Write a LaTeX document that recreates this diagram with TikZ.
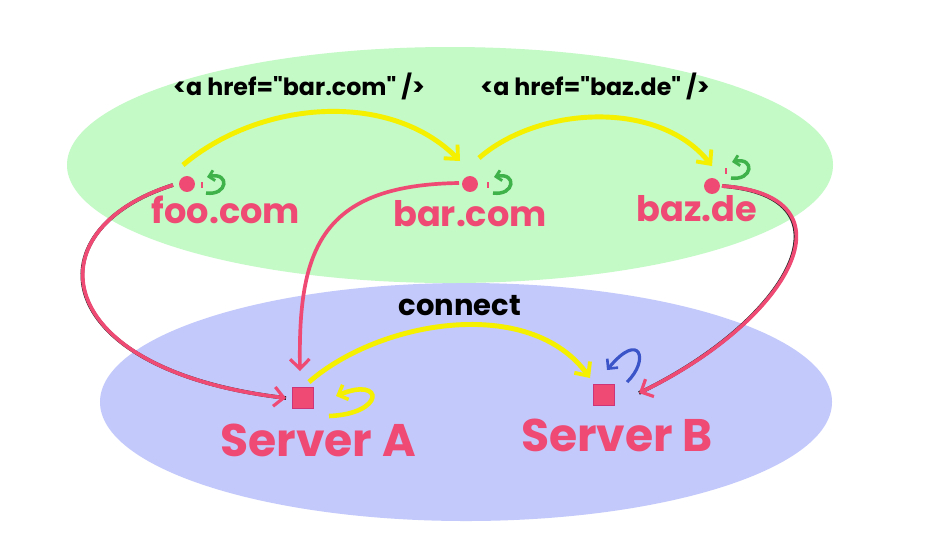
\documentclass[tikz,border=0pt]{standalone}
\usepackage{fontspec}
\setmainfont{Poppins}
\usetikzlibrary{arrows.meta}
\definecolor{gbg}{HTML}{C3FAC6}
\definecolor{bbg}{HTML}{C3C9FB}
\definecolor{pk}{HTML}{EE4A73}
\definecolor{yl}{HTML}{F5F000}
\definecolor{gc}{HTML}{3FB24A}
\definecolor{bc}{HTML}{3B55C8}
\tikzset{
  dot/.style={circle,fill=pk,inner sep=0pt,minimum size=16\px},
  srv/.style={rectangle,fill=pk,draw=pk!70!violet,line width=0.4pt,inner sep=0pt,minimum size=21\px},
  site/.style={text=pk,font=\fontsize{20}{24}\selectfont\bfseries},
  srvlbl/.style={text=pk,font=\fontsize{26}{30}\selectfont\bfseries},
  tag/.style={text=black,font=\fontsize{13.5}{16}\selectfont\bfseries},
  ylink/.style={draw=yl,line width=2.8pt,-{Straight Barb[length=6pt,width=11pt,line width=2.2pt]}},
  plink/.style={draw=pk,line width=2.1pt,-{Straight Barb[length=5.5pt,width=11pt,line width=1.8pt]}},
  pshadow/.style={draw=black!85,line width=2.1pt},
  curl/.style={line width=2pt,-{Straight Barb[length=3pt,width=6pt,line width=1.6pt]}},
}
\newlength\px
\setlength\px{0.567pt}
\begin{document}
\begin{tikzpicture}[x=0.02cm,y=-0.02cm]
\useasboundingbox (0,0) rectangle (945,532);
\fill[white] (0,0) rectangle (945,532);
% ellipses
\fill[bbg] (466,402) ellipse [x radius=366, y radius=119];
\fill[gbg] (450,165) ellipse [x radius=383, y radius=118];
% site nodes
\node[dot] (foo) at (187,184) {};
\node[dot] (bar) at (470,184) {};
\node[dot] (baz) at (712,186) {};
\node[site] (foolbl) at (226,210) {foo.com};
\node[site] (barlbl) at (470,214) {bar.com};
\node[site] (bazlbl) at (697,209) {baz.de};
\node[tag] (t1) at (299,86) {<a href=\textquotedbl bar.com\textquotedbl\ />};
\node[tag] (t2) at (595,86) {<a href=\textquotedbl baz.de\textquotedbl\ />};
% servers
\node[srv] (sa) at (303,398) {};
\node[srv] (sb) at (604,395) {};
\node[srvlbl] (salbl) at (318,440) {Server A};
\node[srvlbl] (sblbl) at (617,435) {Server B};
\node[font=\fontsize{16.5}{20}\selectfont\bfseries] (conn) at (460,306) {connect};
% coordinates
\coordinate (fooS) at (183,165);
\coordinate (barE) at (460,161);
\coordinate (barS) at (479,158);
\coordinate (bazE) at (712,166);
\coordinate (saS) at (309,382);
\coordinate (sbE) at (590,378);
% yellow links
\draw[ylink] (fooS) .. controls (260,100) and (390,90) .. (barE);
\draw[ylink] (barS) .. controls (540,105) and (660,100) .. (bazE);
\draw[ylink] (saS) .. controls (380,320) and (530,295) .. (sbE);
% pink links with shadow
\coordinate (fooL) at (173,185);
\coordinate (barL) at (459,183);
\coordinate (bazR) at (722,186);
\coordinate (saL) at (286,398);
\coordinate (saT) at (300,371);
\coordinate (sbR) at (639,393);
\draw[pshadow,shift={(-0.6pt,-0.6pt)}] (bazR) .. controls (860,195) and (790,320) .. (sbR);
\draw[pshadow,shift={(-0.5pt,-0.5pt)}] (fooL) .. controls (30,230) and (50,370) .. (saL);
\draw[plink] (fooL) .. controls (30,230) and (50,370) .. (saL);
\draw[plink] (barL) .. controls (320,185) and (298,250) .. (saT);
\draw[plink] (bazR) .. controls (860,195) and (790,320) .. (sbR);
% curls
\draw[gc,curl] (206,193) .. controls (228,196) and (230,172) .. (207,177);
\draw[gc,curl] (493,193) .. controls (515,196) and (517,172) .. (494,177);
\draw[gc,curl] (731,178) .. controls (753,181) and (755,157) .. (732,162);
\draw[pk,line width=0.8pt] (202,182) -- (202,188);
\draw[pk,line width=0.8pt] (488,182) -- (488,188);
\draw[pk,line width=0.8pt] (726,168) -- (726,174);
\draw[yl,line width=2.6pt,-{Straight Barb[length=4.5pt,width=9pt,line width=2pt]}] (329,416) .. controls (385,414) and (385,376) .. (336,396);
\draw[bc,line width=1.8pt,-{Straight Barb[length=4pt,width=8pt,line width=1.5pt]}] (627,382) .. controls (650,360) and (640,330) .. (607,370);
\end{tikzpicture}
\end{document}
